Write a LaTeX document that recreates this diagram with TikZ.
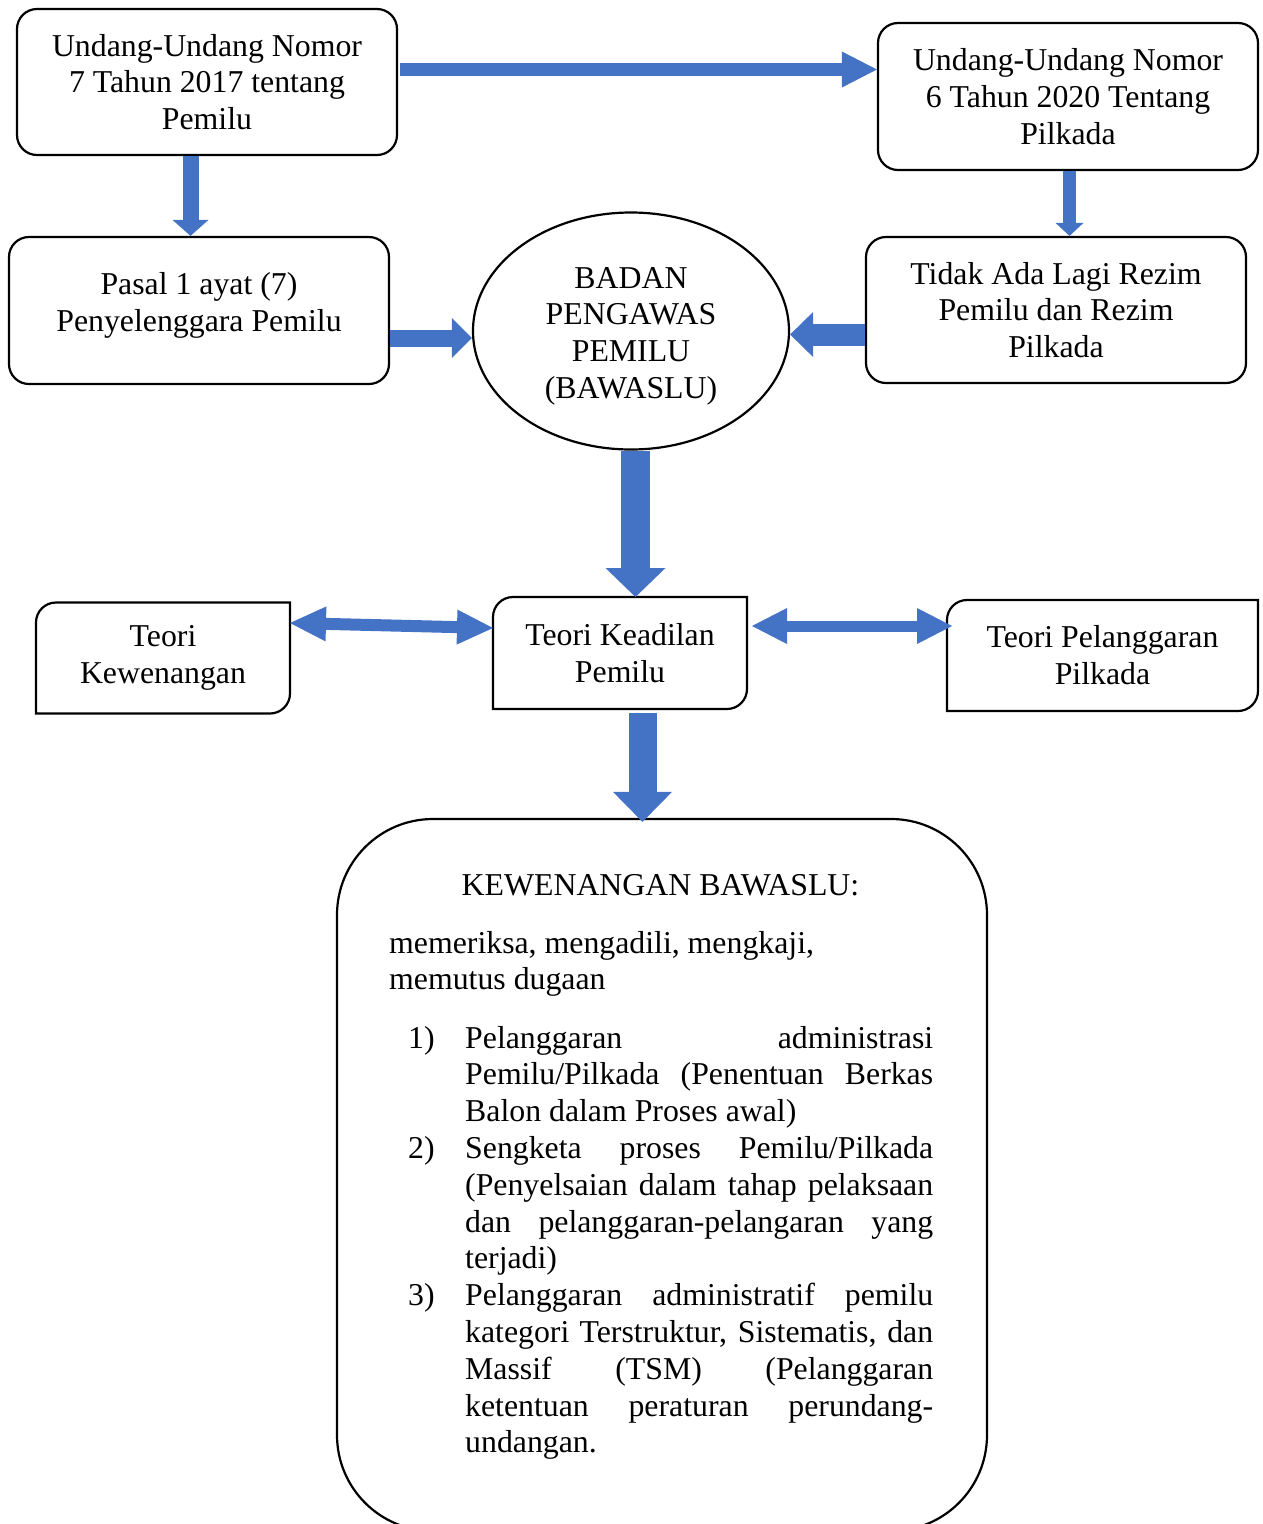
\documentclass[tikz,border=0pt]{standalone}
\usepackage{fontspec}
\setmainfont{Liberation Serif}
\usepackage{tikz}
\usetikzlibrary{shapes,arrows.meta,positioning,calc}

\definecolor{biru}{HTML}{4472C4}
\newcommand{\besar}{\fontsize{31.8}{36.8}\selectfont}
\newcommand{\rata}[1]{\makebox[468pt][s]{#1}}

\tikzset{
  kotak/.style={draw, line width=2.2pt, rounded corners=20pt, align=center},
  teori/.style={outer sep=0pt, align=center, minimum height=111pt},
  teks/.style={anchor=base west, inner sep=0pt, align=left},
  panah/.style n args={3}{draw=biru, line width=#1, -{Triangle[length=#2, width=#3, line width=0pt]}},
  panahdua/.style n args={3}{draw=biru, line width=#1, {Triangle[length=#2, width=#3, line width=0pt]}-{Triangle[length=#2, width=#3, line width=0pt]}}
}

\begin{document}
\begin{tikzpicture}[x=1pt, y=-1pt, every node/.style={font=\besar}]
    \useasboundingbox (0,0) rectangle (1263,1524);

    % Dasar hukum
    \node[kotak, minimum width=380pt, minimum height=146pt] (uu7) at (207,82) {Undang-Undang Nomor\\7 Tahun 2017 tentang\\Pemilu};
    \node[kotak, minimum width=380pt, minimum height=147pt] (uu6) at (1068,96.5) {Undang-Undang Nomor\\6 Tahun 2020 Tentang\\Pilkada};
    \node[kotak, minimum width=380pt, minimum height=147pt, text height=62pt, text depth=21pt] (pasal) at (199,310.5) {Pasal 1 ayat (7)\\Penyelenggara Pemilu};
    \node[kotak, minimum width=380pt, minimum height=146pt] (rezim) at (1056,310) {Tidak Ada Lagi Rezim\\Pemilu dan Rezim\\Pilkada};

    % Lembaga
    \node[draw, line width=2.2pt, ellipse, minimum width=316pt, minimum height=237pt, align=center, text height=141pt, text depth=6pt] (bawaslu) at (631,331) {BADAN\\PENGAWAS\\PEMILU\\(BAWASLU)};

    % Teori
    \node[teori, minimum width=254pt] (tw) at (163,658) {Teori\\Kewenangan};
    \node[teori, minimum width=254pt, minimum height=112pt] (tk) at (620,653) {Teori Keadilan\\Pemilu};
    \node[teori, minimum width=311pt] (tp) at (1102.5,655.5) {Teori Pelanggaran\\Pilkada};
    \foreach \n in {tw,tk,tp} {
        \draw[line width=2.2pt] (\n.north east) -- ([xshift=20pt]\n.north west) arc[start angle=90, end angle=180, radius=20pt]
            -- (\n.south west) -- ([xshift=-20pt]\n.south east) arc[start angle=270, end angle=360, radius=20pt] -- cycle;
    }

    % Kewenangan
    \node[kotak, rounded corners=96pt, minimum width=650pt, minimum height=712pt] (kb) at (662,1175) {};
    \node[inner sep=0pt, anchor=base] (judul) at (660.5,895) {KEWENANGAN BAWASLU:};
    \node[teks] (intro) at (389,989.8) {memeriksa, mengadili, mengkaji,\\memutus dugaan};
    \node[teks] (no1) at (408,1048) {1)};
    \node[teks] (isi1) at (465,1121.6) {\rata{Pelanggaran administrasi}\\\rata{Pemilu/Pilkada (Penentuan Berkas}\\Balon dalam Proses awal)};
    \node[teks] (no2) at (408,1158.4) {2)};
    \node[teks] (isi2) at (465,1268.8) {\rata{Sengketa proses Pemilu/Pilkada}\\\rata{(Penyelsaian dalam tahap pelaksaan}\\\rata{dan pelanggaran-pelangaran yang}\\terjadi)};
    \node[teks] (no3) at (408,1305.6) {3)};
    \node[teks] (isi3) at (465,1452.8) {\rata{Pelanggaran administratif pemilu}\\\rata{kategori Terstruktur, Sistematis, dan}\\\rata{Massif (TSM) (Pelanggaran}\\\rata{ketentuan peraturan perundang-}\\undangan.};

    % Panah
    \draw[panah={13pt}{35pt}{36pt}] ([xshift=2pt,yshift=12.5pt]uu7.east) -- ([yshift=12.5pt]uu7.east -| uu6.west);
    \draw[panah={16pt}{16pt}{36pt}] ([xshift=-16.5pt]uu7.south) -- ([xshift=-16.5pt]uu7.south |- pasal.north);
    \draw[panah={13pt}{13pt}{28pt}] ([xshift=1.5pt]uu6.south) -- ([xshift=1.5pt]uu6.south |- rezim.north);
    \draw[panah={17pt}{20pt}{40pt}] ([yshift=-27.5pt]pasal.east) -- ([yshift=-27.5pt]pasal.east -| bawaslu.west);
    \draw[panah={22pt}{23pt}{45pt}] ([yshift=-24.5pt]rezim.west) -- ([yshift=-24.5pt]rezim.west -| bawaslu.east);
    \draw[panah={29pt}{29pt}{60pt}] ([xshift=4.5pt]bawaslu.south) -- ([xshift=4.5pt]bawaslu.south |- tk.north);
    \draw[panahdua={12pt}{36pt}{35pt}] ([yshift=35pt]tw.east) -- ([yshift=25pt]tk.west);
    \draw[panahdua={11pt}{35pt}{36pt}] ([xshift=5pt,yshift=27pt]tk.east) -- ([xshift=5pt,yshift=27pt]tk.east -| tp.west);
    \draw[panah={28pt}{30pt}{59pt}] ([xshift=22.5pt,yshift=-4pt]tk.south) -- ([xshift=22.5pt,yshift=-4pt]tk.south |- kb.north);
\end{tikzpicture}
\end{document}
